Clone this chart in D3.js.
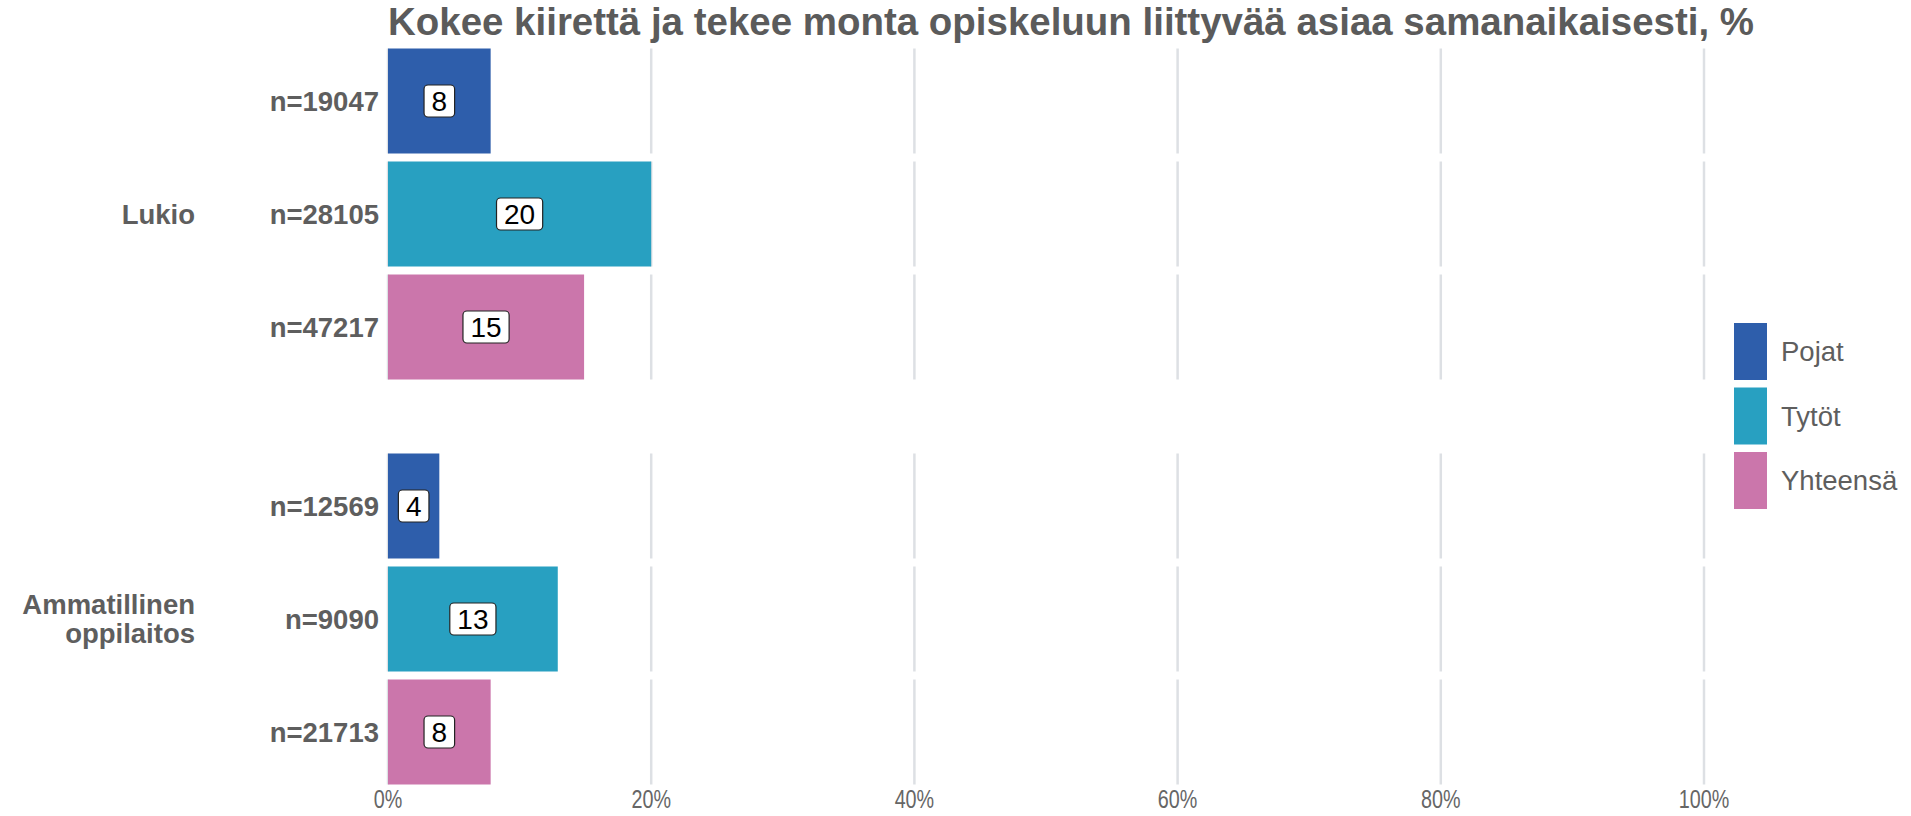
<!DOCTYPE html>
<html>
<head>
<meta charset="utf-8">
<script src="https://cdn.jsdelivr.net/npm/d3@7"></script>
<style>
  html, body { margin: 0; padding: 0; background: #ffffff; }
  svg { display: block; }
  text { font-family: "Liberation Sans", Arial, sans-serif; }
</style>
</head>
<body>
<svg id="chart" width="1911" height="816"></svg>
<script>
// ---- data ----
const titleText = "Kokee kiirettä ja tekee monta opiskeluun liittyvää asiaa samanaikaisesti, %";
const groups = ["Lukio", "Ammatillinen oppilaitos"];
const groupLabelLines = [["Lukio"], ["Ammatillinen", "oppilaitos"]];
const series = ["Pojat", "Tytöt", "Yhteensä"];
const lukioValues = [7.8, 20.0, 14.9];
const ammatillinenValues = [3.9, 12.9, 7.8];
const lukioN = ["n=19047", "n=28105", "n=47217"];
const ammatillinenN = ["n=12569", "n=9090", "n=21713"];
const xTicks = [0, 20, 40, 60, 80, 100];
const xTickLabels = ["0%", "20%", "40%", "60%", "80%", "100%"];
const colors = ["#2e5eab", "#28a0c1", "#cb76ab"];

const valuesByGroup = [lukioValues, ammatillinenValues];
const nByGroup = [lukioN, ammatillinenN];
const rows = [];
groups.forEach((g, gi) => {
  series.forEach((s, si) => {
    rows.push({ group: g, series: s, value: valuesByGroup[gi][si], n: nByGroup[gi][si], gi, si });
  });
});

// ---- layout ----
const svg = d3.select("#chart");
const x = d3.scaleLinear().domain([0, 100]).range([388, 1704]);
const yGroup = d3.scaleBand().domain(groups).range([48.5, 784.5]).paddingInner(0.1827).paddingOuter(0);
const ySeries = d3.scaleBand().domain(series).range([0, yGroup.bandwidth()]).paddingInner(0.0708).paddingOuter(0);
const color = d3.scaleOrdinal().domain(series).range(colors);
const rowY = d => yGroup(d.group) + ySeries(d.series);
const bh = ySeries.bandwidth();

// title
svg.append("text")
  .attr("x", x(0)).attr("y", 35)
  .attr("font-size", 38).attr("font-weight", "bold")
  .attr("fill", "#5b5b5b")
  .attr("textLength", 1366).attr("lengthAdjust", "spacingAndGlyphs")
  .text(titleText);

// gridlines per row panel
const grid = svg.append("g");
rows.forEach(d => {
  grid.selectAll(null).data(xTicks).enter().append("line")
    .attr("x1", t => x(t)).attr("x2", t => x(t))
    .attr("y1", rowY(d)).attr("y2", rowY(d) + bh)
    .attr("stroke", "#dde0e4").attr("stroke-width", 2.5);
});

// bars
svg.append("g").selectAll("rect").data(rows).enter().append("rect")
  .attr("x", x(0)).attr("y", d => rowY(d))
  .attr("width", d => x(d.value) - x(0)).attr("height", bh)
  .attr("fill", d => color(d.series));

// value labels
const labels = svg.append("g").selectAll("g").data(rows).enter().append("g")
  .attr("transform", d => `translate(${x(d.value / 2)},${rowY(d) + bh / 2})`);
labels.each(function(d) {
  const g = d3.select(this);
  const t = g.append("text")
    .attr("text-anchor", "middle").attr("dy", "0.36em")
    .attr("font-size", 28).attr("fill", "#000")
    .text(Math.round(d.value));
  const w = t.node().getComputedTextLength();
  g.insert("rect", "text")
    .attr("x", -w / 2 - 7.5).attr("y", -16)
    .attr("width", w + 15).attr("height", 32)
    .attr("rx", 4).attr("ry", 4)
    .attr("fill", "#ffffff").attr("stroke", "#222").attr("stroke-width", 1.2);
});

// n labels
svg.append("g").selectAll("text").data(rows).enter().append("text")
  .attr("x", 379).attr("y", d => rowY(d) + bh / 2).attr("dy", "0.36em")
  .attr("text-anchor", "end").attr("font-size", 27.5).attr("font-weight", "bold")
  .attr("fill", "#5e5e5e")
  .text(d => d.n);

// group labels
groups.forEach((g, gi) => {
  const lines = groupLabelLines[gi];
  const cy = yGroup(g) + yGroup.bandwidth() / 2;
  const lh = 29;
  const t = svg.append("text")
    .attr("text-anchor", "end").attr("font-size", 27.5).attr("font-weight", "bold")
    .attr("fill", "#5e5e5e");
  lines.forEach((ln, li) => {
    t.append("tspan").attr("x", 195)
      .attr("y", cy + (li - (lines.length - 1) / 2) * lh)
      .attr("dy", "0.36em").text(ln);
  });
});

// x axis tick labels
svg.append("g").selectAll("text").data(xTicks).enter().append("text")
  .attr("transform", t => `translate(${x(t)},808) scale(0.76,1)`)
  .attr("text-anchor", "middle").attr("font-size", 26)
  .attr("fill", "#666666")
  .text((t, i) => xTickLabels[i]);

// legend
const legend = svg.append("g").attr("transform", "translate(1734,323)");
const li = legend.selectAll("g").data(series).enter().append("g")
  .attr("transform", (d, i) => `translate(0,${i * 64.5})`);
li.append("rect").attr("width", 33).attr("height", 57).attr("fill", d => color(d));
li.append("text").attr("x", 47).attr("y", 28.5).attr("dy", "0.36em")
  .attr("font-size", 27.5).attr("fill", "#5e5e5e").text(d => d);
</script>
</body>
</html>
